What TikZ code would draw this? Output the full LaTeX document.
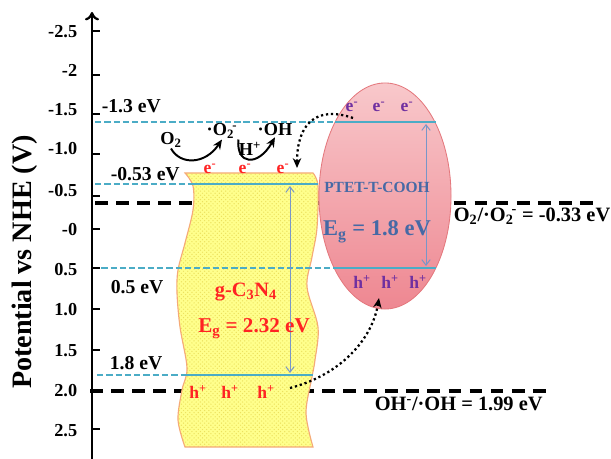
\documentclass[tikz,border=0pt]{standalone}
\usepackage{fontspec}
\setmainfont{Liberation Serif}
\usetikzlibrary{arrows.meta}
\usetikzlibrary{patterns}
\newcommand{\subsup}[2]{\textsubscript{#1}\kern-0.1em\textsuperscript{#2}}

\begin{document}
\begin{tikzpicture}[x=0.025cm, y=-0.025cm, line width=0.6pt,
        potaxis/.style={line width=1.6pt,-{Computer Modern Rightarrow[length=6pt,width=10pt]}},
        tickmark/.style={line width=1.4pt},
        tk/.style={font=\bfseries\fontsize{13}{15}\selectfont,inner sep=1pt,anchor=east},
        ev/.style={font=\bfseries\fontsize{14}{16}\selectfont,inner sep=1pt,anchor=west},
        chem/.style={font=\bfseries\fontsize{13}{15}\selectfont,inner sep=0.5pt},
        eR/.style={font=\bfseries\fontsize{12.5}{14}\selectfont,inner sep=0pt,text=redtxt},
        eP/.style={font=\bfseries\fontsize{12.5}{14}\selectfont,inner sep=0pt,text=hpurple},
        lvl/.style={lvlblue,line width=2pt,dash pattern=on 4.5pt off 2.1pt},
        band/.style={lvlblue,line width=2pt},
        redox/.style={black,line width=2.2pt,dash pattern=on 9pt off 6pt},
        gap/.style={gapblue,line width=0.7pt,arrows={Straight Barb[length=4pt,width=6pt]-Straight Barb[length=4pt,width=6pt]}},
        rxn/.style={line width=1.4pt,-{Stealth[length=7pt,width=6pt]}},
        transfer/.style={line width=1.6pt,dotted,-{Stealth[length=7pt,width=6pt,open]}},
        redoxlab/.style={font=\bfseries\fontsize{14.5}{16}\selectfont,inner sep=1pt,anchor=west}]
      \definecolor{lvlblue}{RGB}{75,172,198}
      \definecolor{gapblue}{RGB}{120,150,200}
      \definecolor{ptblue}{RGB}{70,105,165}
      \definecolor{hpurple}{RGB}{112,48,160}
      \definecolor{redtxt}{RGB}{255,35,35}
      \definecolor{pinktop}{RGB}{248,200,203}
      \definecolor{pinkbot}{RGB}{238,135,145}
      \definecolor{pinkedge}{RGB}{228,120,125}
      \definecolor{gyellow}{RGB}{255,255,140}
      \definecolor{gdot}{RGB}{236,225,95}
      \definecolor{gedge}{RGB}{245,170,120}
      \useasboundingbox (0,0) rectangle (611,459);
      % redox potentials, behind the two semiconductors
      \coordinate (ox1) at (95,203);  \coordinate (ox2) at (593,203);
      \coordinate (oh1) at (90,391);  \coordinate (oh2) at (549,391);
      \draw[redox] (ox1) -- (ox2);
      \draw[redox] (oh1) -- (oh2);
      % g-C3N4 band
      \draw[draw=gedge,line width=0.8pt,preaction={fill=gyellow},pattern=crosshatch dots,pattern color=gdot]
        (185,173) -- plot[smooth,tension=0.55] coordinates {(313,173) (318,186) (317,228) (312,257) (307,287) (318,327) (315,360) (312,377) (306,413) (313,447)}
        -- plot[smooth,tension=0.55] coordinates {(185,447) (178,420) (182,390) (187,368) (180,327) (177,293) (178,270) (185,243) (193,210) (193,186) (185,173)} -- cycle;
      % PTET-T-COOH
      \shade[top color=pinktop,bottom color=pinkbot] (385,196) ellipse [x radius=1.65cm,y radius=2.825cm];
      \draw[pinkedge] (385,196) ellipse [x radius=1.65cm,y radius=2.825cm];
      % band edges
      \coordinate (c1a) at (95,122);  \coordinate (c1b) at (335,122); \coordinate (c1c) at (436,122);
      \coordinate (c2a) at (95,184);  \coordinate (c2b) at (189,184); \coordinate (c2c) at (318,184);
      \coordinate (c3a) at (92,268);  \coordinate (c3b) at (334,268); \coordinate (c3c) at (436,268);
      \coordinate (c4a) at (97,375);  \coordinate (c4b) at (186,375); \coordinate (c4c) at (313,375);
      \draw[lvl] (c1a) -- (c1b);  \draw[band] (c1b) -- (c1c);
      \draw[lvl] (c2a) -- (c2b);  \draw[band] (c2b) -- (c2c);
      \draw[lvl] (c3a) -- (c3b);  \draw[band] (c3b) -- (c3c);
      \draw[lvl] (c4a) -- (c4b);  \draw[band] (c4b) -- (c4c);
      \coordinate (g1) at (290,186);  \coordinate (g2) at (290,373);
      \coordinate (p1) at (426,124);  \coordinate (p2) at (426,266);
      \draw[gap] (g1) -- (g2);
      \draw[gap] (p1) -- (p2);
      % axis
      \coordinate (ax0) at (92,459);  \coordinate (ax1) at (92,12);
      \draw[potaxis] (ax0) -- (ax1);
      \foreach \lab/\yl/\yt [count=\i] in {-2.5/32/31,-2/70/75,-1.5/110/114,-1.0/149/154,-0.5/191/196,-0/230/229,0.5/270/268,1.0/310/309,1.5/351/350,2.0/391/391,2.5/431/429}{
        \draw[tickmark] (92,\yt) -- ++(8,0);
        \node[tk] (t\i) at (79,\yl) {\lab};
      }
      \node[font=\bfseries\fontsize{20}{22}\selectfont,rotate=90] (ytitle) at (25,262) {Potential vs NHE (V)};
      % level values
      \node[ev] (l1) at (100,106) {-1.3 eV};
      \node[ev] (l2) at (109,174) {-0.53 eV};
      \node[ev] (l3) at (109,287) {0.5 eV};
      \node[ev] (l4) at (108,363) {1.8 eV};
      % carriers
      \foreach \xx [count=\i] in {210,245,283}{\node[eR] (re\i) at (\xx,169) {e\textsuperscript{-}};}
      \foreach \xx [count=\i] in {198,230,266}{\node[eR] (rh\i) at (\xx,392) {h\textsuperscript{+}};}
      \foreach \xx [count=\i] in {352,379,407}{\node[eP] (pe\i) at (\xx,107) {e\textsuperscript{-}};}
      \foreach \xx [count=\i] in {362,390,418}{\node[eP] (ph\i) at (\xx,282) {h\textsuperscript{+}};}
      % semiconductor labels
      \node[font=\bfseries\fontsize{14.5}{16}\selectfont,text=redtxt,inner sep=1pt] (gcn) at (246,292) {g-C\textsubscript{3}N\textsubscript{4}};
      \node[font=\bfseries\fontsize{15}{17}\selectfont,text=redtxt,inner sep=1pt] (geg) at (254,329) {E\textsubscript{g} = 2.32 eV};
      \node[font=\bfseries\fontsize{11}{13}\selectfont,text=ptblue,inner sep=1pt] (ptet) at (377,187) {PTET-T-COOH};
      \node[font=\bfseries\fontsize{16}{18}\selectfont,text=ptblue,inner sep=1pt] (peg) at (377,232) {E\textsubscript{g} = 1.8 eV};
      % redox labels
      \node[redoxlab] (lox) at (452,216) {O\textsubscript{2}/·O\subsup{2}{-} = -0.33 eV};
      \node[redoxlab] (loh) at (373,404) {OH\textsuperscript{-}/·OH = 1.99 eV};
      % O2 reduction
      \node[chem] (o2) at (171,140) {O\textsubscript{2}};
      \node[chem] (sup) at (222,131) {·O\subsup{2}{-}};
      \node[chem] (oh) at (275,130) {·OH};
      \node[chem] (hp) at (250,149) {H\textsuperscript{+}};
      \draw[rxn] (o2.south) .. controls (180,165) and (205,165) .. (sup.south);
      \draw[rxn] (sup.south east) .. controls (236,165) and (258,167) .. (oh.south);
      % charge transfer
      \coordinate (d1s) at (353,118);  \coordinate (d1e) at (297,168);
      \coordinate (d2s) at (290,388);  \coordinate (d2e) at (379,298);
      \draw[transfer] (d1s) .. controls (315,105) and (297,125) .. (d1e);
      \draw[transfer] (d2s) .. controls (340,375) and (372,340) .. (d2e);
    \end{tikzpicture}
\end{document}
